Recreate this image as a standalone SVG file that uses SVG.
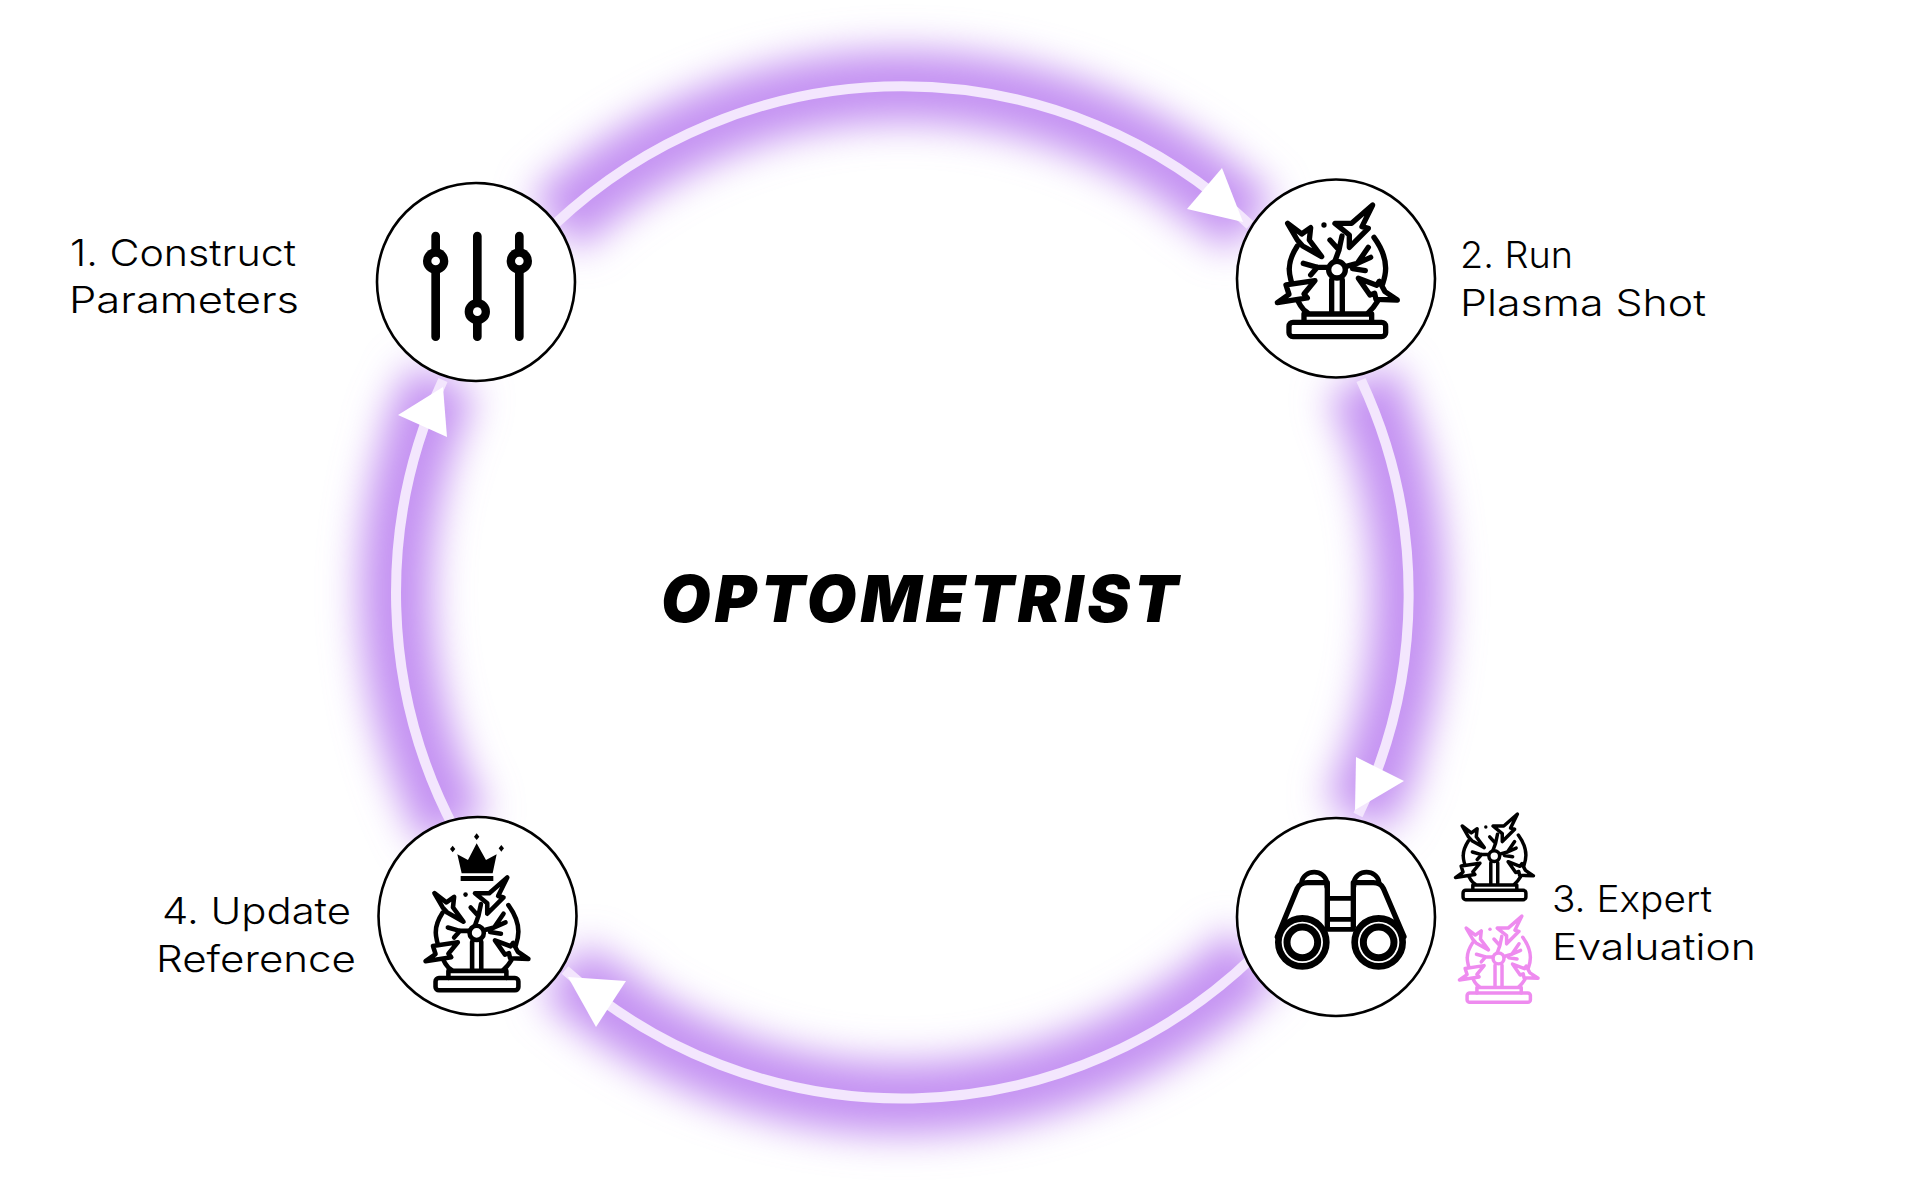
<svg xmlns="http://www.w3.org/2000/svg" width="1920" height="1186" viewBox="0 0 1920 1186">
<style>
.lbl{font-family:"Inter","Noto Sans",sans-serif;font-size:37px;font-weight:350;fill:#000}
.ttl{font-family:"Inter","Noto Sans",sans-serif;font-size:64px;font-weight:900;font-style:italic;fill:#000}
.ring{fill:none;stroke:#f3e6fd;stroke-width:10}
.glowline{fill:none;stroke:#c492f2;stroke-width:72}
.glowhead{fill:#c492f2;stroke:#c492f2;stroke-width:24;stroke-linejoin:round}
.head{fill:#fff}
.disc{fill:#fff;stroke:#000;stroke-width:2.6}
.ic{fill:none;stroke:currentColor;stroke-width:16;stroke-linecap:round;stroke-linejoin:round}
.icw{fill:#fff;stroke:currentColor;stroke-width:16;stroke-linecap:round;stroke-linejoin:round}
.bk{fill:#000}
</style>
<defs>
<filter id="blur" filterUnits="userSpaceOnUse" x="0" y="0" width="1920" height="1186"><feGaussianBlur stdDeviation="19"/></filter>
<g id="plasma">
<rect class="ic" x="207" y="487" width="290" height="43" rx="12"/>
<path class="ic" d="M252 487V462H455V487"/>
<path class="ic" d="M262 458Q240 445 225 400Q206 345 208 325Q208 295 232 258M462 232Q497 280 497 325Q497 345 488 372M472 425Q460 445 445 458"/>
<path class="icw" d="M203 190L245 222L272 203L268 240L305 290L248 258L232 240Z"/>
<path class="icw" d="M458 135L426 200L445 205L388 262L388 225L345 190L395 190Z"/>
<path class="icw" d="M172 428L207 403L198 375L285 362L252 402L262 414Z"/>
<path class="icw" d="M532 420L495 395L478 364L470 376L415 355L450 405L464 400L468 418Z"/>
<path class="ic" d="M335 360V458M367 360V458"/>
<path class="ic" d="M326 322H292L250 310M292 322L272 345M345 303L357 270L330 240M357 270L366 228M376 320L412 310L445 262M412 310L452 292M398 326L436 332"/>
<circle class="ic" cx="351" cy="329" r="25" fill="#fff" style="fill:#fff"/>
<circle cx="312" cy="195" r="8" fill="currentColor"/>
</g>
</defs>
<rect width="1920" height="1186" fill="#fff"/>
<g id="connectors">
<g filter="url(#blur)">
<path class="glowline" d="M555 224A506 506 0 0 1 1250 225"/>
<path class="glowline" d="M1361 380A506 506 0 0 1 1358 815"/>
<path class="glowline" d="M1255 955A506 506 0 0 1 565 970"/>
<path class="glowline" d="M455 830A506 506 0 0 1 443 380"/>
<polygon class="glowhead" points="1222,168 1187,209 1243,222"/>
<polygon class="glowhead" points="1356,757 1404,781 1355,810"/>
<polygon class="glowhead" points="626,981 596,1027 568,977"/>
<polygon class="glowhead" points="398,415 447,437 443,387"/>
</g>
<path class="ring" d="M555 224A506 506 0 0 1 1250 225"/>
<path class="ring" d="M1361 380A506 506 0 0 1 1358 815"/>
<path class="ring" d="M1255 955A506 506 0 0 1 565 970"/>
<path class="ring" d="M455 830A506 506 0 0 1 443 380"/>
<polygon class="head" points="1222,168 1187,209 1243,222"/>
<polygon class="head" points="1356,757 1404,781 1355,810"/>
<polygon class="head" points="626,981 596,1027 568,977"/>
<polygon class="head" points="398,415 447,437 443,387"/>
</g>
<g id="node-1">
<circle class="disc" cx="476" cy="282" r="99"/>
<g transform="translate(360 170) scale(.3333)">
<path d="M227 198V500M352 198V500M478 198V500" fill="none" stroke="#000" stroke-width="26" stroke-linecap="round"/>
<circle class="bk" cx="227" cy="273" r="38"/><circle class="bk" cx="352" cy="425" r="38"/><circle class="bk" cx="478" cy="273" r="38"/>
<circle fill="#fff" cx="227" cy="273" r="13"/><circle fill="#fff" cx="352" cy="425" r="13"/><circle fill="#fff" cx="478" cy="273" r="13"/>
</g>
<text class="lbl" x="70" y="266" textLength="226" lengthAdjust="spacingAndGlyphs">1. Construct</text>
<text class="lbl" x="69" y="313" textLength="230" lengthAdjust="spacingAndGlyphs">Parameters</text>
</g>
<g id="node-2">
<circle class="disc" cx="1336" cy="278.500" r="99"/>
<use href="#plasma" transform="translate(1220 160) scale(.3333)" color="#000"/>
<text class="lbl" x="1460" y="268" textLength="113" lengthAdjust="spacingAndGlyphs">2. Run</text>
<text class="lbl" x="1460" y="316" textLength="246" lengthAdjust="spacingAndGlyphs">Plasma Shot</text>
</g>
<g id="node-3">
<circle class="disc" cx="1336" cy="917" r="99"/>
<g transform="translate(1220 740) scale(.3333)" fill="none" stroke="#000" stroke-linejoin="round" stroke-linecap="round">
<path stroke-width="16" d="M172 590L232 445Q240 428 262 428H322V560M552 590L490 445Q482 428 460 428H400V560"/>
<path stroke-width="14" d="M245 428V425A38 34 0 0 1 320 425V440M477 428V425A38 34 0 0 0 402 425V440M322 475H400M322 538H400M322 568H400"/>
<circle stroke-width="20" cx="247" cy="607" r="72" fill="#fff"/><circle stroke-width="21" cx="247" cy="607" r="46"/>
<circle stroke-width="20" cx="476" cy="607" r="72" fill="#fff"/><circle stroke-width="21" cx="476" cy="607" r="46"/>
</g>
<use href="#plasma" transform="translate(1418.2 784.8) scale(.2167)" color="#000"/>
<use href="#plasma" transform="translate(1421.9 886.6) scale(.2183)" color="#ee8bef"/>
<text class="lbl" x="1552" y="912" textLength="160" lengthAdjust="spacingAndGlyphs">3. Expert</text>
<text class="lbl" x="1552" y="960" textLength="204" lengthAdjust="spacingAndGlyphs">Evaluation</text>
</g>
<g id="node-4">
<circle class="disc" cx="477.500" cy="916" r="99"/>
<use href="#plasma" transform="translate(376.4 838.9) scale(.2857)" color="#000"/>
<g transform="translate(360 800) scale(.3333)">
<polygon class="bk" points="305,220 292,163 324,180 350,130 378,180 410,163 398,220"/>
<rect class="bk" x="302" y="228" width="98" height="15"/>
<polygon class="bk" points="350,100 358,110 350,120 342,110"/>
<polygon class="bk" points="278,137 286,147 278,157 270,147"/>
<polygon class="bk" points="424,135 432,145 424,155 416,145"/>
</g>
<text class="lbl" x="162" y="924" textLength="189" lengthAdjust="spacingAndGlyphs">4. Update</text>
<text class="lbl" x="156" y="972" textLength="200" lengthAdjust="spacingAndGlyphs">Reference</text>
</g>
<g id="center-title">
<text class="ttl" x="661" y="622" textLength="517" lengthAdjust="spacing">OPTOMETRIST</text>
</g>
</svg>
